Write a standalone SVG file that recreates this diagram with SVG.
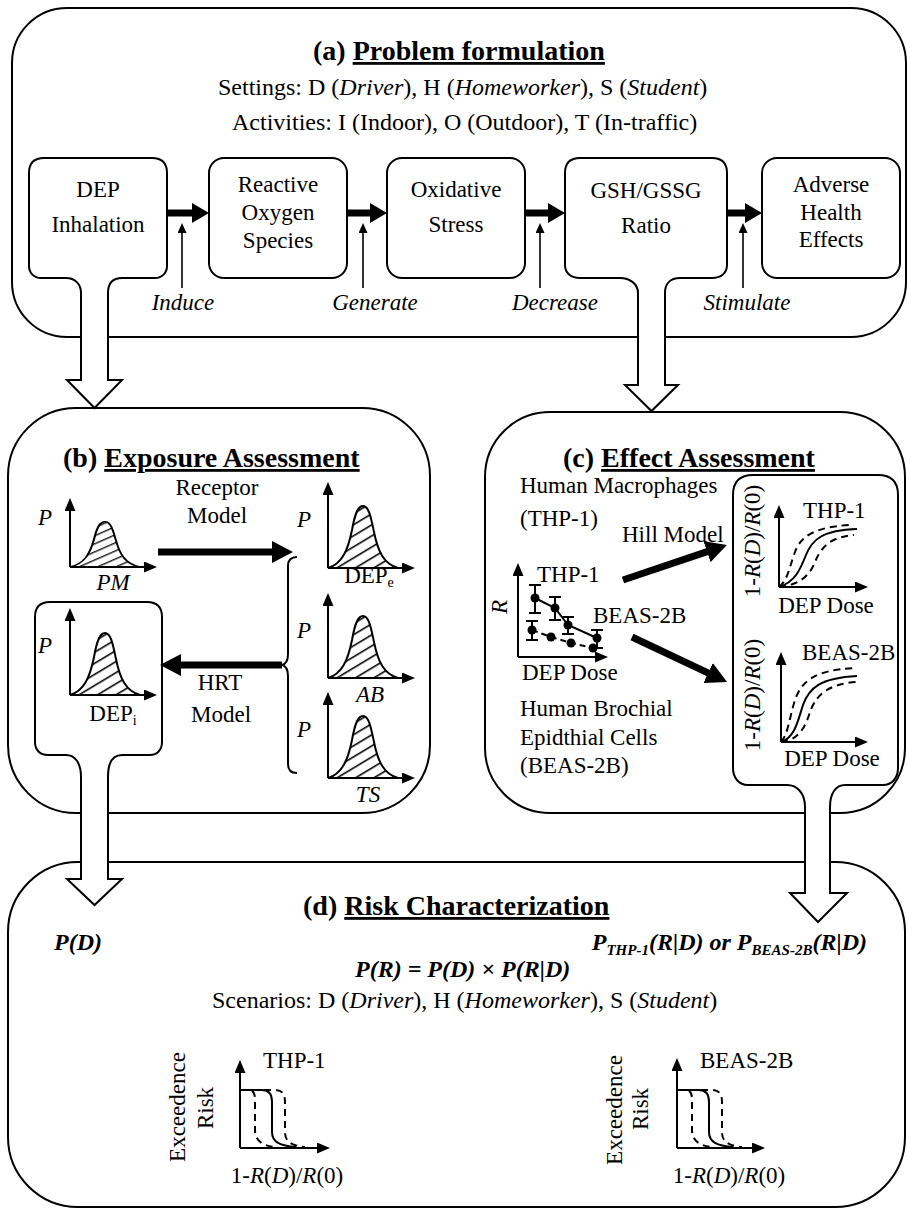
<svg xmlns="http://www.w3.org/2000/svg" width="907" height="1210" viewBox="0 0 907 1210">
<style>
text{font-family:"Liberation Serif","Times New Roman",serif;font-size:23px;fill:#000}
.h{font-size:24px}
.ttl{font-size:28px;font-weight:bold}
.it{font-style:italic}
.bi{font-style:italic;font-weight:bold;font-size:24px}
.c{text-anchor:middle}
.e{text-anchor:end}
.ln{fill:none;stroke:#000;stroke-width:2}
.wf{fill:#fff;stroke:#000;stroke-width:2}
.thin{fill:none;stroke:#000;stroke-width:1.6}
.thick{fill:none;stroke:#000;stroke-width:7}
.mid{fill:none;stroke:#000;stroke-width:7}
.ax{fill:none;stroke:#000;stroke-width:2;marker-end:url(#axh)}
.dash{fill:none;stroke:#000;stroke-width:2;stroke-dasharray:7,5}
.bell{fill:url(#hatch);stroke:#000;stroke-width:2}
</style>
<defs>
<pattern id="hatch" patternUnits="userSpaceOnUse" width="10" height="9.5" patternTransform="rotate(-31)">
<line x1="0" y1="4.5" x2="10" y2="4.5" stroke="#000" stroke-width="1.6"/>
</pattern>
<marker id="axh" markerWidth="13" markerHeight="11" refX="0" refY="5.5" orient="auto" markerUnits="userSpaceOnUse"><path d="M0,0 L13,5.5 L0,11 Z" fill="#000"/></marker>
<marker id="big" markerWidth="21" markerHeight="22" refX="1" refY="11" orient="auto" markerUnits="userSpaceOnUse"><path d="M0,0 L21,11 L0,22 Z" fill="#000"/></marker>
<marker id="med" markerWidth="17" markerHeight="20" refX="1" refY="10" orient="auto" markerUnits="userSpaceOnUse"><path d="M0,0 L17,10 L0,20 Z" fill="#000"/></marker>
<marker id="sm" markerWidth="10" markerHeight="9" refX="0" refY="4.5" orient="auto" markerUnits="userSpaceOnUse"><path d="M0,0 L10,4.5 L0,9 Z" fill="#000"/></marker>
<path id="bellp" d="M0,0 C14,-4 20,-18 24,-38 C27,-55 30,-62 35,-62 C41,-62 43,-50 46,-36 C50,-16 56,-4 70,0 Z"/>
</defs>
<rect width="907" height="1210" fill="#fff"/>

<!-- panels -->
<g id="panel-a"><rect class="wf" x="12" y="8" width="894" height="329" rx="55"/>
<text class="ttl" x="313" y="60">(a) <tspan text-decoration="underline">Problem formulation</tspan></text>
<text class="h" x="218" y="95">Settings: D (<tspan class="it">Driver</tspan>), H (<tspan class="it">Homeworker</tspan>), S (<tspan class="it">Student</tspan>)</text>
<text class="h" x="232" y="130">Activities: I (Indoor), O (Outdoor), T (In-traffic)</text>
</g>
<g id="panel-b"><rect class="wf" x="8" y="408" width="422" height="405" rx="68"/>
<text class="ttl" x="63" y="467">(b) <tspan text-decoration="underline">Exposure Assessment</tspan></text>
</g>
<g id="panel-c"><rect class="wf" x="485" y="412" width="420" height="401" rx="65"/>
<text class="ttl" x="563" y="467">(c) <tspan text-decoration="underline">Effect Assessment</tspan></text>
</g>
<g id="panel-d"><rect class="wf" x="8" y="862" width="897" height="345" rx="70"/>
<text class="ttl" x="303" y="915">(d) <tspan text-decoration="underline">Risk Characterization</tspan></text>
</g>

<!-- top row nodes -->
<g id="dep-inhalation">
<path class="wf" d="M108,293 C108,284 112,278 122,278 L155,278 C162,278 167,273 167,266 L167,173 Q167,158 152,158 L44,158 Q29,158 29,173 L29,266 C29,273 34,278 41,278 L66,278 C75,278 81,284 81,293"/>
<text class="c" x="98" y="197">DEP</text>
<text class="c" x="98" y="232">Inhalation</text>
</g>
<g id="ros">
<rect class="wf" x="209" y="158" width="138" height="120" rx="15"/>
<text class="c" x="278" y="192">Reactive</text>
<text class="c" x="278" y="220">Oxygen</text>
<text class="c" x="278" y="248">Species</text>
</g>
<g id="oxidative-stress">
<rect class="wf" x="387" y="158" width="138" height="120" rx="15"/>
<text class="c" x="456" y="197">Oxidative</text>
<text class="c" x="456" y="232">Stress</text>
</g>
<g id="gsh-ratio">
<path class="wf" d="M665,293 C665,284 670,278 680,278 L712,278 C721,278 727,273 727,265 L727,173 Q727,158 712,158 L580,158 Q565,158 565,173 L565,265 C565,273 571,278 580,278 L620,278 C630,278 638,284 638,293"/>
<text class="c" x="646" y="198">GSH/GSSG</text>
<text class="c" x="646" y="233">Ratio</text>
</g>
<g id="adverse-effects">
<rect class="wf" x="762" y="158" width="138" height="120" rx="15"/>
<text class="c" x="831" y="192">Adverse</text>
<text class="c" x="831" y="220">Health</text>
<text class="c" x="831" y="247">Effects</text>
</g>

<!-- panel b nodes -->
<g id="pm-dist">
<use href="#bellp" class="bell" transform="translate(70,567) scale(1,0.73)"/>
<line class="ax" x1="70" y1="567" x2="70" y2="511"/>
<line class="ax" x1="70" y1="567" x2="144" y2="567"/>
<text class="it" x="38" y="525">P</text>
<text class="it c" x="113" y="590">PM</text>
</g>
<g id="dep-i">
<path class="wf" d="M108,777 C108,763 112,755 122,755 L150,755 C157,755 162,750 162,742 L162,617 Q162,602 147,602 L50,602 Q35,602 35,617 L35,742 C35,750 40,755 48,755 L66,755 C75,755 81,763 81,777"/>
<use href="#bellp" class="bell" transform="translate(70,695)"/>
<line class="ax" x1="70" y1="695" x2="70" y2="621"/>
<line class="ax" x1="70" y1="695" x2="144" y2="695"/>
<text class="it" x="38" y="653">P</text>
<text class="c" x="113" y="721">DEP<tspan font-size="14" dy="4">i</tspan></text>
</g>
<g id="dep-e">
<use href="#bellp" class="bell" transform="translate(328,568)"/>
<line class="ax" x1="328" y1="568" x2="328" y2="495"/>
<line class="ax" x1="328" y1="568" x2="402" y2="568"/>
<text class="it" x="297" y="527">P</text>
<text class="c" x="369" y="583">DEP<tspan font-size="14" dy="4">e</tspan></text>
</g>
<g id="ab-dist">
<use href="#bellp" class="bell" transform="translate(328,678)"/>
<line class="ax" x1="328" y1="678" x2="328" y2="606"/>
<line class="ax" x1="328" y1="678" x2="402" y2="678"/>
<text class="it" x="297" y="638">P</text>
<text class="it c" x="370" y="702">AB</text>
</g>
<g id="ts-dist">
<use href="#bellp" class="bell" transform="translate(328,778)"/>
<line class="ax" x1="328" y1="778" x2="328" y2="705"/>
<line class="ax" x1="328" y1="778" x2="402" y2="778"/>
<text class="it" x="297" y="737">P</text>
<text class="it c" x="368" y="802">TS</text>
</g>
<g id="brace">
<path class="ln" d="M297,557 C291,557 288,560 288,566 L288,654 C288,660 286,664 282,665 C286,666 288,670 288,676 L288,764 C288,770 291,773 297,773"/>
</g>

<!-- panel c nodes -->
<g id="c-text">
<text x="520" y="493">Human Macrophages</text>
<text x="520" y="526">(THP-1)</text>
<text x="520" y="716">Human Brochial</text>
<text x="520" y="745">Epidthial Cells</text>
<text x="520" y="773">(BEAS-2B)</text>
</g>
<g id="dose-response-data">
<line class="ax" x1="518" y1="657" x2="518" y2="576"/>
<line class="ax" x1="518" y1="657" x2="595" y2="657"/>
<text class="it" transform="translate(507,607) rotate(-90)" text-anchor="middle">R</text>
<text x="537" y="582">THP-1</text>
<text x="593" y="623">BEAS-2B</text>
<text x="522" y="680">DEP Dose</text>
<path class="ln" d="M535,598 L555,608 L568,625 L597,638"/>
<path class="ln" stroke-dasharray="6,4" d="M532,630 L551,637 L571,643 L593,648"/>
<path class="ln" d="M535,585 L535,613 M529,585 L541,585 M529,613 L541,613 M555,597 L555,620 M549,597 L561,597 M549,620 L561,620 M568,617 L568,634 M562,617 L574,617 M562,634 L574,634 M597,630 L597,648 M591,630 L603,630 M591,648 L603,648 M532,621 L532,640 M526,621 L538,621 M526,640 L538,640"/>
<g fill="#000"><circle cx="535" cy="598" r="4.5"/><circle cx="555" cy="608" r="4.5"/><circle cx="568" cy="625" r="4.5"/><circle cx="597" cy="638" r="4.5"/><circle cx="532" cy="630" r="4.5"/><circle cx="551" cy="637" r="4.5"/><circle cx="571" cy="643" r="4.5"/><circle cx="593" cy="648" r="4.5"/></g>
</g>
<g id="hill-box">
<path class="wf" d="M830,807 C830,793 836,785 845,785 L883,785 C892,785 898,778 898,768 L898,495 Q898,475 878,475 L753,475 Q733,475 733,495 L733,768 C733,778 739,785 748,785 L787,785 C797,785 805,793 805,807"/>
<line class="ax" x1="779" y1="587" x2="779" y2="518"/>
<line class="ax" x1="779" y1="587" x2="855" y2="587"/>
<path class="dash" d="M779,587 C788,580 790,565 795,552 C800,538 812,527 850,525"/>
<path class="ln" d="M779,587 C795,582 800,570 806,555 C812,540 822,530 857,529"/>
<path class="dash" d="M779,587 C800,585 810,575 815,562 C822,545 832,537 854,535"/>
<text x="803" y="518">THP-1</text>
<text class="c" x="826" y="613">DEP Dose</text>
<text transform="translate(760,541) rotate(-90)" text-anchor="middle">1-<tspan class="it">R</tspan>(<tspan class="it">D</tspan>)/<tspan class="it">R</tspan>(0)</text>
<line class="ax" x1="781" y1="742" x2="781" y2="665"/>
<line class="ax" x1="781" y1="742" x2="855" y2="742"/>
<path class="dash" d="M781,742 C788,735 790,715 795,700 C801,683 812,670 855,668"/>
<path class="ln" d="M781,742 C795,738 798,720 803,705 C809,688 820,678 857,676"/>
<path class="dash" d="M781,742 C800,740 806,725 810,712 C816,695 828,684 856,682"/>
<text x="802" y="660">BEAS-2B</text>
<text class="c" x="832" y="766">DEP Dose</text>
<text transform="translate(760,695) rotate(-90)" text-anchor="middle">1-<tspan class="it">R</tspan>(<tspan class="it">D</tspan>)/<tspan class="it">R</tspan>(0)</text>
</g>

<!-- panel d nodes -->
<g id="d-text">
<text class="bi" x="54" y="950">P(D)</text>
<text class="bi e" x="867" y="950">P<tspan font-size="15" dy="5">THP-1</tspan><tspan dy="-5">(R|D) or P</tspan><tspan font-size="15" dy="5">BEAS-2B</tspan><tspan dy="-5">(R|D)</tspan></text>
<text class="bi" x="355" y="977">P(R) = P(D) × P(R|D)</text>
<text class="h" x="212" y="1008">Scenarios: D (<tspan class="it">Driver</tspan>), H (<tspan class="it">Homeworker</tspan>), S (<tspan class="it">Student</tspan>)</text>
</g>
<g id="risk-thp1">
<line class="ax" x1="240" y1="1148" x2="240" y2="1073"/>
<line class="ax" x1="240" y1="1148" x2="317" y2="1148"/>
<path class="dash" d="M240,1090 L248,1090 C254,1090 255,1094 255,1100 L255,1130 C255,1140 262,1146 275,1147"/>
<path class="ln" d="M240,1090 L262,1090 C270,1090 272,1095 272,1102 L272,1132 C272,1142 280,1146 296,1147"/>
<path class="dash" d="M240,1090 L275,1090 C283,1090 285,1095 285,1102 L285,1132 C285,1142 292,1146 305,1147"/>
<text x="263" y="1068">THP-1</text>
<text class="c" x="287" y="1183">1-<tspan class="it">R</tspan>(<tspan class="it">D</tspan>)/<tspan class="it">R</tspan>(0)</text>
<text transform="translate(185,1107) rotate(-90)" text-anchor="middle">Exceedence</text>
<text transform="translate(213,1108) rotate(-90)" text-anchor="middle">Risk</text>
</g>
<g id="risk-beas">
<line class="ax" x1="677" y1="1148" x2="677" y2="1071"/>
<line class="ax" x1="677" y1="1148" x2="752" y2="1148"/>
<g transform="translate(437,0)">
<path class="dash" d="M240,1090 L248,1090 C254,1090 255,1094 255,1100 L255,1130 C255,1140 262,1146 275,1147"/>
<path class="ln" d="M240,1090 L262,1090 C270,1090 272,1095 272,1102 L272,1132 C272,1142 280,1146 296,1147"/>
<path class="dash" d="M240,1090 L275,1090 C283,1090 285,1095 285,1102 L285,1132 C285,1142 292,1146 305,1147"/>
</g>
<text x="700" y="1068">BEAS-2B</text>
<text class="c" x="729" y="1183">1-<tspan class="it">R</tspan>(<tspan class="it">D</tspan>)/<tspan class="it">R</tspan>(0)</text>
<text transform="translate(622,1110) rotate(-90)" text-anchor="middle">Exceedence</text>
<text transform="translate(648,1109) rotate(-90)" text-anchor="middle">Risk</text>
</g>

<!-- connectors -->
<g id="connectors">
<path class="wf" d="M81,293 L81,380 L67,380 L94.5,408 L122,380 L108,380 L108,293"/>
<path class="wf" d="M638,293 L638,385 L625,385 L651.5,411 L678,385 L665,385 L665,293"/>
<path class="wf" d="M81,777 L81,879 L67,879 L94.5,905 L122,879 L108,879 L108,777"/>
<path class="wf" d="M805,807 L805,893 L790,893 L818,922 L847,893 L830,893 L830,807"/>
<line class="mid" x1="167" y1="213" x2="193" y2="213" marker-end="url(#med)"/>
<line class="mid" x1="347" y1="213" x2="371" y2="213" marker-end="url(#med)"/>
<line class="mid" x1="525" y1="213" x2="549" y2="213" marker-end="url(#med)"/>
<line class="mid" x1="727" y1="213" x2="746" y2="213" marker-end="url(#med)"/>
<line class="thin" x1="182" y1="288" x2="182" y2="233" marker-end="url(#sm)"/>
<line class="thin" x1="363" y1="288" x2="363" y2="233" marker-end="url(#sm)"/>
<line class="thin" x1="540" y1="288" x2="540" y2="233" marker-end="url(#sm)"/>
<line class="thin" x1="743" y1="288" x2="743" y2="233" marker-end="url(#sm)"/>
<text class="it c" x="183" y="310">Induce</text>
<text class="it c" x="375" y="310">Generate</text>
<text class="it c" x="555" y="310">Decrease</text>
<text class="it c" x="747" y="310">Stimulate</text>
<line class="thick" x1="158" y1="552" x2="273" y2="552" marker-end="url(#big)"/>
<text class="c" x="217" y="495">Receptor</text>
<text class="c" x="217" y="523">Model</text>
<line class="thick" x1="282" y1="665" x2="180" y2="665" marker-end="url(#big)"/>
<text class="c" x="220" y="690">HRT</text>
<text class="c" x="221" y="722">Model</text>
<line class="thick" x1="623" y1="580" x2="708" y2="551.4" marker-end="url(#big)"/>
<text x="622" y="542">Hill Model</text>
<line class="thick" x1="632" y1="637" x2="709" y2="673.4" marker-end="url(#big)"/>
</g>
</svg>
